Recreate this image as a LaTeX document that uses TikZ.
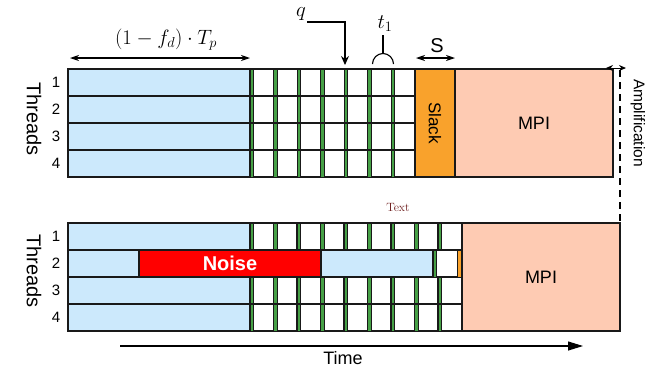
\documentclass[tikz,border=0pt]{standalone}
\usepackage{fontspec}
\setsansfont{Liberation Sans}
\usetikzlibrary{arrows.meta}
\definecolor{cblue}{RGB}{204,233,252}
\definecolor{cgreen}{RGB}{70,160,70}
\definecolor{corange}{RGB}{249,162,44}
\definecolor{cpeach}{RGB}{254,203,179}
\definecolor{cmaroon}{RGB}{110,30,30}
\tikzset{
  box/.style={draw=black!90, line width=1.3pt},
  bluebox/.style={box, fill=cblue},
  cellbox/.style={draw=black!90, line width=1.1pt, fill=white},
  gbar/.style={draw=black!90, line width=0.7pt, fill=cgreen},
  sflbl/.style={font=\sffamily\fontsize{#1}{#1}\selectfont, inner sep=0pt},
  mathlbl/.style={font=\fontsize{#1}{#1}\selectfont, inner sep=0pt},
  dimarrow/.style={line width=1.1pt, {Stealth[length=9pt,width=6pt]}-{Stealth[length=9pt,width=6pt]}},
}
\begin{document}
\begin{tikzpicture}[x=1pt,y=-1pt]
\useasboundingbox (0,0) rectangle (649,368);

% ---------- top panel ----------
\def\p{23.55}
\foreach \r/\y in {1/69,2/96,3/123,4/150} {
  \foreach \k in {0,...,6} {
    \draw[cellbox] (250+\k*\p,\y) rectangle (250+\k*\p+\p,\y+27);
    \draw[gbar] (250+\k*\p,\y) rectangle (250+\k*\p+3.5,\y+27);
  }
  \draw[bluebox] (68,\y) rectangle (250,\y+27);
  \node[sflbl=15] (tn\r) at (56,\y+13.5) {\r};
}
\draw[box, fill=corange] (415,69) rectangle (455,177);
\node[sflbl=17, rotate=-90] (slack) at (435,123) {Slack};
\draw[box, fill=cpeach] (455,69) rectangle (613,177);
\node[sflbl=18] (mpitop) at (534,123) {MPI};
\node[sflbl=20, rotate=-90] (thrtop) at (34,119) {Threads};

% ---------- bottom panel ----------
\def\q{23.5}
\foreach \r/\y in {1/223,3/277,4/304} {
  \foreach \k in {0,...,8} {
    \draw[cellbox] (250+\k*\q,\y) rectangle (250+\k*\q+\q,\y+27);
    \draw[gbar] (250+\k*\q,\y) rectangle (250+\k*\q+3.5,\y+27);
  }
  \draw[bluebox] (68,\y) rectangle (250,\y+27);
}
% row 2 with noise
\draw[cellbox] (433,250) rectangle (457.5,277);
\draw[gbar] (433,250) rectangle (436.5,277);
\draw[box, line width=0.7pt, fill=corange] (457.5,250) rectangle (461.5,277);
\draw[bluebox] (68,250) rectangle (139,277);
\draw[box, fill=red] (139,250) rectangle (321,277);
\draw[bluebox] (321,250) rectangle (433,277);
\node[font=\sffamily\bfseries\fontsize{20}{20}\selectfont, inner sep=0pt, text=white] (noise) at (230,263.5) {Noise};
\foreach \r/\y in {1/223,2/250,3/277,4/304} {
  \node[sflbl=15] (bn\r) at (56,\y+13.5) {\r};
}
\draw[box, fill=cpeach] (462,223) rectangle (620,331);
\node[sflbl=18] (mpibot) at (541,277) {MPI};
\node[sflbl=20, rotate=-90] (thrbot) at (34,271) {Threads};

% ---------- annotations ----------
\node[mathlbl=22.5] (fdlbl) at (166,40) {$(1-f_d)\cdot T_p$};
\coordinate (fa) at (70,58);
\coordinate (fb) at (250,58);
\draw[dimarrow] (fa) -- (fb);

\node[mathlbl=21] (qlbl) at (301,14) {$q$};
\coordinate (qa) at (307,22);
\coordinate (qb) at (345,65);
\draw[line width=1.1pt, -{Stealth[length=9pt,width=8pt]}] (qa) -| (qb);

\node[mathlbl=22] (tlbl) at (385,24) {$t_1$};
\coordinate (ta) at (383,35);
\coordinate (tb) at (383,54);
\draw[line width=1.1pt] (ta) -- (tb);
\draw[line width=1.1pt] (372.5,64) arc[start angle=180, end angle=360, radius=10.5];

\node[sflbl=20] (slbl) at (437,46) {S};
\coordinate (sa) at (416,58);
\coordinate (sb) at (455,58);
\draw[dimarrow] (sa) -- (sb);

\coordinate (aa) at (606,68);
\coordinate (ab) at (626,68);
\draw[line width=1pt, {Stealth[length=7pt,width=6pt]}-{Stealth[length=7pt,width=6pt]}] (aa) -- (ab);
\coordinate (da) at (620,70);
\coordinate (db) at (620,222);
\draw[line width=1.2pt, dash pattern=on 7pt off 5pt] (da) -- (db);
\node[sflbl=15.5, rotate=-90] (amp) at (638,123) {Amplification};

\node[font=\fontsize{12}{12}\selectfont, text=cmaroon, inner sep=0pt] (txt) at (398,207) {Text};

\coordinate (ta1) at (120,346);
\coordinate (ta2) at (583,346);
\draw[line width=1.1pt, -{Triangle[length=15pt,width=9pt]}] (ta1) -- (ta2);
\node[sflbl=18] (time) at (343,358) {Time};
\end{tikzpicture}
\end{document}
